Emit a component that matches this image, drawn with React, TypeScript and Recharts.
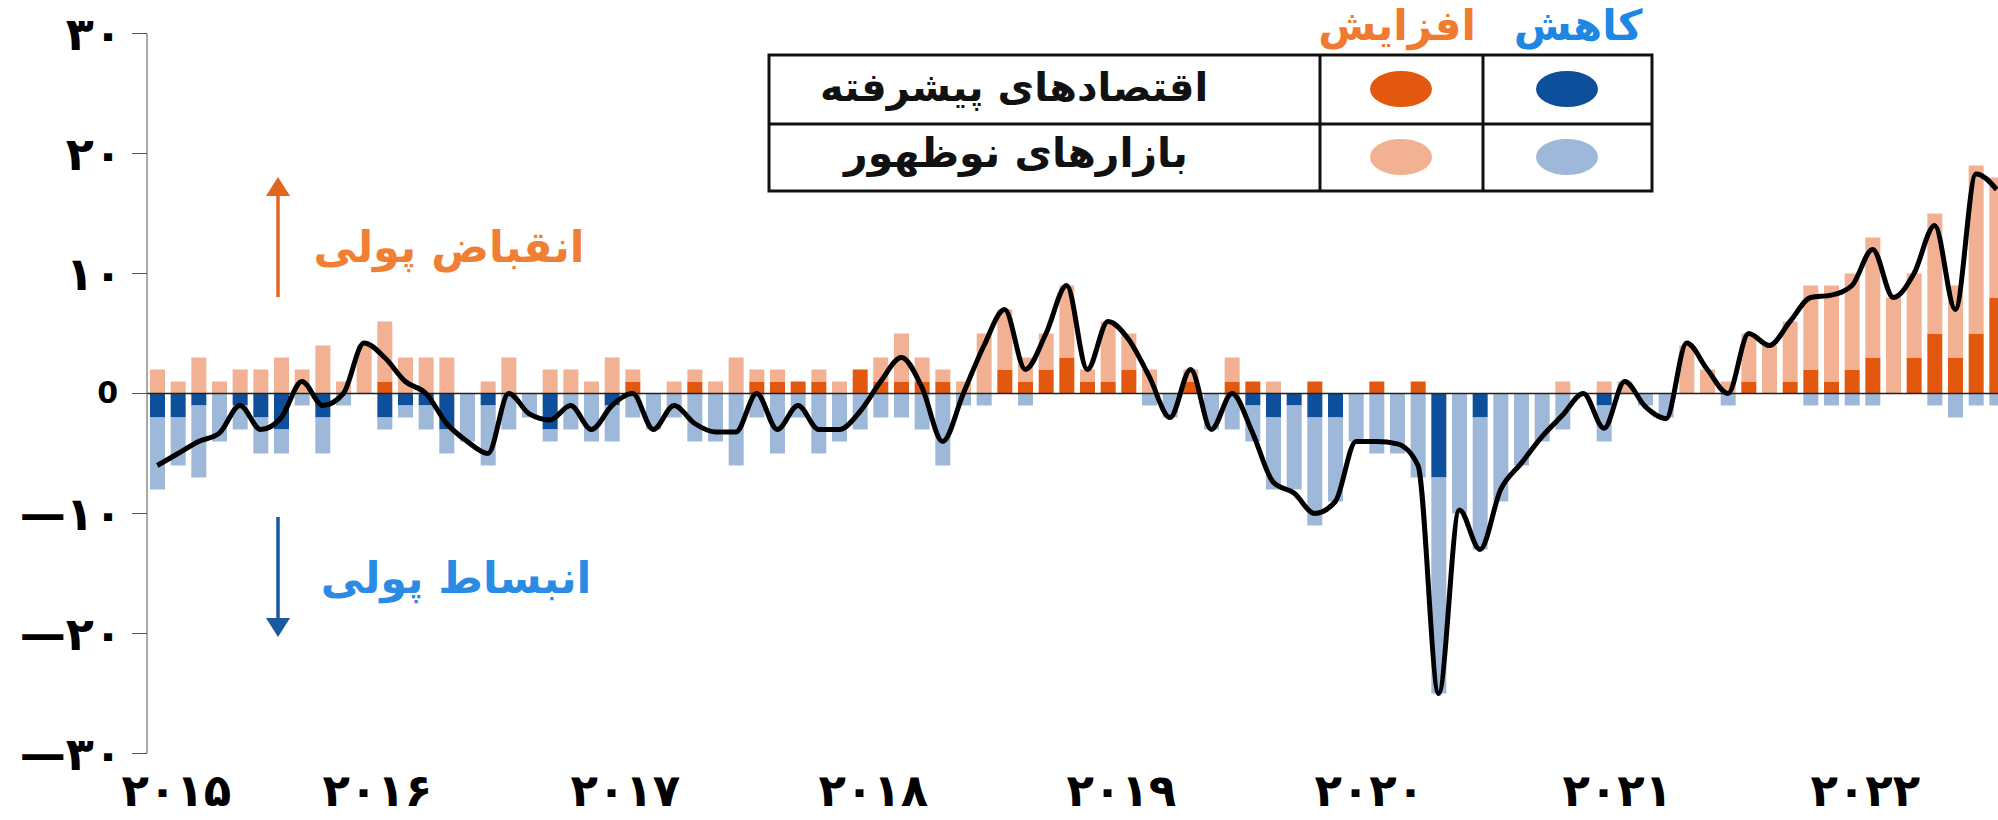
import React from 'react';
import { ComposedChart, Bar, Line, XAxis, YAxis, ReferenceLine } from 'recharts';

// ---------- data ----------
const years = [2015, 2016, 2017, 2018, 2019, 2020, 2021, 2022];
const yearLabels = ['۲۰۱۵', '۲۰۱۶', '۲۰۱۷', '۲۰۱۸', '۲۰۱۹', '۲۰۲۰', '۲۰۲۱', '۲۰۲۲'];
const monthCount = 90; // Jan 2015 .. Jun 2022
const months: string[] = years
  .flatMap((y) => Array.from({ length: 12 }, (_, m) => `${y}-${m + 1}`))
  .slice(0, monthCount);

const yTicks = [-30, -20, -10, 0, 10, 20, 30];
const yTickLabels = ['—۳۰', '—۲۰', '—۱۰', '0', '۱۰', '۲۰', '۳۰'];

// number of central banks raising rates (advanced / emerging)
const advancedIncrease = [
  0, 0, 0, 0, 0, 0, 0, 0, 0, 0, 0, 1, 0, 0, 0, 0, 0, 0, 0, 0, 0, 0, 0, 1, 0, 0, 1, 0, 0, 1,
  1, 1, 1, 0, 2, 1, 1, 1, 1, 0, 0, 2, 1, 2, 3, 1, 1, 2, 0, 0, 1, 0, 1, 1, 0, 0, 1, 0, 0, 1,
  0, 1, 0, 0, 0, 0, 0, 0, 0, 0, 0, 0, 0, 0, 0, 0, 0, 1, 0, 1, 2, 1, 2, 3, 0, 3, 5, 3, 5, 8,
];
const emergingIncrease = [
  2, 1, 3, 1, 2, 2, 3, 2, 4, 1, 4, 5, 3, 3, 3, 0, 1, 3, 0, 2, 2, 1, 3, 1, 0, 1, 1, 1, 3, 1,
  1, 0, 1, 1, 0, 2, 4, 2, 1, 1, 5, 5, 2, 3, 6, 1, 5, 3, 2, 0, 1, 0, 2, 0, 1, 0, 0, 0, 0, 0,
  0, 0, 0, 0, 0, 0, 0, 0, 1, 0, 1, 1, 0, 0, 4, 2, 1, 4, 4, 5, 7, 8, 8, 10, 8, 7, 10, 6, 14, 10,
];
// number of central banks cutting rates (shown below zero)
const advancedDecrease = [
  -2, -2, -1, 0, -1, -2, -3, 0, -2, 0, 0, -2, -1, -1, -3, 0, -1, 0, 0, -3, 0, 0, -1, 0, 0, 0, 0, 0, 0, 0,
  0, 0, 0, 0, 0, 0, 0, 0, 0, 0, 0, 0, 0, 0, 0, 0, 0, 0, 0, 0, 0, 0, 0, -1, -2, -1, -2, -2, 0, 0,
  0, 0, -7, 0, -2, 0, 0, 0, 0, 0, -1, 0, 0, 0, 0, 0, 0, 0, 0, 0, 0, 0, 0, 0, 0, 0, 0, 0, 0, 0,
];
const emergingDecrease = [
  -6, -4, -6, -4, -2, -3, -2, -1, -3, -1, 0, -1, -1, -2, -2, -4, -5, -3, -2, -1, -3, -4, -3, -2, -3, -2, -4, -4, -6, -2,
  -5, -2, -5, -4, -3, -2, -2, -3, -6, -1, -1, 0, -1, 0, 0, 0, 0, 0, -1, -2, 0, -3, -3, -3, -6, -7, -9, -7, -4, -5,
  -5, -7, -18, -10, -11, -9, -6, -4, -3, 0, -3, 0, -1, -2, 0, 0, -1, 0, 0, 0, -1, -1, -1, -1, 0, 0, -1, -2, -1, -1,
];
// net balance line
const netBalance = [
  -6, -5, -4, -3.3, -1, -3, -2, 1, -1, 0, 4.2, 3, 1, 0, -2.5, -4, -5, 0, -1.7, -2.2, -1, -3, -1, 0, -3, -1, -2.5, -3.2, -3.2, 0,
  -3, -1, -3, -3, -1.5, 1, 3, 0.5, -4, 0, 4, 7, 2, 5, 9, 2, 6, 4.5, 1.4, -2, 2, -3, 0, -3.3, -7.4, -8.3, -10, -9, -4, -4,
  -4.2, -6, -25, -9.7, -13, -8, -5.8, -3.6, -1.8, 0, -2.9, 1, -1.1, -2.1, 4.2, 2, 0, 5, 4, 6, 8, 8.2, 9, 12, 8, 10, 14, 7, 18.3, 17,
];

const chartData = months.map((m, i) => ({
  month: m,
  advInc: advancedIncrease[i],
  emInc: emergingIncrease[i],
  advDec: advancedDecrease[i],
  emDec: emergingDecrease[i],
  net: netBalance[i],
}));

// ---------- styles ----------
const C_DARK_ORANGE = '#E2580E';
const C_LIGHT_ORANGE = '#F2B193';
const C_DARK_BLUE = '#0E4F9B';
const C_LIGHT_BLUE = '#9DB8D9';
const FONT = '"DejaVu Sans", sans-serif';

const XTick = (props: any) => {
  const { x, payload } = props;
  const yr = Number(String(payload.value).split('-')[0]);
  const idx = years.indexOf(yr);
  if (idx < 0) return null;
  const shift = idx === 0 ? 19 : -28;
  return (
    <text x={x + shift} y={806} textAnchor="middle" fontFamily={FONT} fontWeight="bold" fontSize={45} fill="#000">
      {yearLabels[idx]}
    </text>
  );
};

const YTick = (props: any) => {
  const { y, payload } = props;
  const idx = yTicks.indexOf(payload.value);
  const isZero = payload.value === 0;
  return (
    <text
      x={isZero ? 118 : 122}
      y={y + (isZero ? 9 : 16)}
      textAnchor="end"
      fontFamily={FONT}
      fontWeight="bold"
      fontSize={isZero ? 30 : 46}
      fill="#000"
    >
      {yTickLabels[idx]}
    </text>
  );
};

const Overlay = () => (
  <svg
    width={1998}
    height={820}
    style={{ position: 'absolute', left: 0, top: 0, pointerEvents: 'none' }}
  >
    {/* arrows */}
    <line x1={278} y1={297} x2={278} y2={192} stroke="#E0651E" strokeWidth={3.5} />
    <polygon points="266,196 290,196 278,177" fill="#E0651E" />
    <line x1={278} y1={517} x2={278} y2={622} stroke="#1A58A4" strokeWidth={3.5} />
    <polygon points="266,618 290,618 278,637" fill="#1A58A4" />
    <text x={449} y={262} textAnchor="middle" fontFamily={FONT} fontWeight="bold" fontSize={43} fill="#F07F34">
      انقباض پولی
    </text>
    <text x={456} y={593} textAnchor="middle" fontFamily={FONT} fontWeight="bold" fontSize={43} fill="#2A8BE5">
      انبساط پولی
    </text>

    {/* legend table */}
    <text x={1397} y={40} textAnchor="middle" fontFamily={FONT} fontWeight="bold" fontSize={42} fill="#F07A30">
      افزایش
    </text>
    <text x={1578} y={40} textAnchor="middle" fontFamily={FONT} fontWeight="bold" fontSize={42} fill="#1E86E3">
      کاهش
    </text>
    <rect x={769} y={55} width={883} height={136} fill="#fff" stroke="#111" strokeWidth={3} />
    <line x1={769} y1={124} x2={1652} y2={124} stroke="#111" strokeWidth={3} />
    <line x1={1320} y1={55} x2={1320} y2={191} stroke="#111" strokeWidth={3} />
    <line x1={1483} y1={55} x2={1483} y2={191} stroke="#111" strokeWidth={3} />
    <ellipse cx={1401} cy={89} rx={31} ry={18} fill={C_DARK_ORANGE} />
    <ellipse cx={1567} cy={89} rx={31} ry={18} fill={C_DARK_BLUE} />
    <ellipse cx={1401} cy={157} rx={31} ry={18} fill={C_LIGHT_ORANGE} />
    <ellipse cx={1567} cy={157} rx={31} ry={18} fill={C_LIGHT_BLUE} />
    <text x={1014} y={101} textAnchor="middle" fontFamily={FONT} fontWeight="bold" fontSize={40} fill="#111">
      اقتصادهای پیشرفته
    </text>
    <text x={1016} y={167} textAnchor="middle" fontFamily={FONT} fontWeight="bold" fontSize={41} fill="#111">
      بازارهای نوظهور
    </text>
  </svg>
);

export default function App() {
  return (
    <div
      style={{
        position: 'absolute',
        left: 0,
        top: 0,
        width: 1998,
        height: 820,
        overflow: 'hidden',
        background: '#fff',
      }}
    >
      <ComposedChart
        width={2007}
        height={820}
        data={chartData}
        stackOffset="sign"
        margin={{ top: 33.5, right: 0, bottom: 0, left: 0 }}
        barSize={15}
      >
        <XAxis
          dataKey="month"
          interval={11}
          axisLine={false}
          tickLine={false}
          height={66.5}
          tick={<XTick />}
        />
        <YAxis
          width={147}
          domain={[-30, 30]}
          ticks={yTicks}
          allowDataOverflow
          stroke="#555"
          tickSize={15}
          tick={<YTick />}
        />
        <Bar dataKey="advInc" stackId="s" fill={C_DARK_ORANGE} isAnimationActive={false} />
        <Bar dataKey="emInc" stackId="s" fill={C_LIGHT_ORANGE} isAnimationActive={false} />
        <Bar dataKey="advDec" stackId="s" fill={C_DARK_BLUE} isAnimationActive={false} />
        <Bar dataKey="emDec" stackId="s" fill={C_LIGHT_BLUE} isAnimationActive={false} />
        <ReferenceLine y={0} stroke="#222" strokeWidth={1.5} />
        <Line
          dataKey="net"
          type="monotone"
          stroke="#000"
          strokeWidth={5}
          dot={false}
          activeDot={false}
          isAnimationActive={false}
        />
      </ComposedChart>
      <Overlay />
    </div>
  );
}
